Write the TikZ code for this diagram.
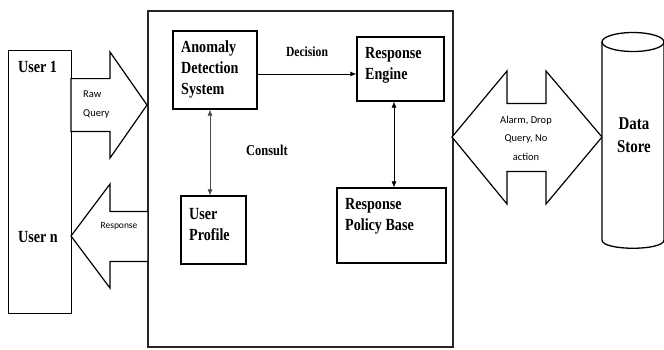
\documentclass[tikz,border=0pt]{standalone}
\usepackage{fontspec}
\setmainfont{Liberation Serif}
\newfontfamily\boxfont{Liberation Serif}[FakeStretch=0.83]
\newfontfamily\arrowfont{Carlito}
\usetikzlibrary{arrows.meta}

\newlength{\du}
\setlength{\du}{1pt}

\tikzset{
  block/.style={draw=black, line width=1.3\du, fill=white, inner sep=0pt},
  blocktext/.style={font=\boxfont\bfseries\fontsize{17}{21}\selectfont, align=left, inner sep=0pt, anchor=west},
  plaintext/.style={font=\boxfont\bfseries\fontsize{14}{17}\selectfont, inner sep=0pt},
  fatarrow/.style={draw=black, line width=1.2\du, fill=white, line join=miter},
  arrowtext/.style={font=\arrowfont\fontsize{10.5}{18.5}\selectfont, align=center, inner sep=0pt},
  tip/.style={-{Latex[length=6pt,width=5pt]}},
  link/.style={{Latex[length=6pt,width=5pt]}-{Latex[length=6pt,width=5pt]}, line width=0.6\du},
}

\begin{document}
\begin{tikzpicture}[x=1\du, y=-1\du]
\useasboundingbox (0,0) rectangle (664,349);

% users on the left
\node[block, line width=1\du, minimum width=63\du, minimum height=263\du] (users) at (39.5,181.5) {};
\node[blocktext] (user1) at (18,67) {User 1};
\node[blocktext] (usern) at (18,237) {User n};

% main system frame
\node[block, line width=1.5\du, draw=black!85, minimum width=305\du, minimum height=336\du] (core) at (300.5,179) {};

% query in, response out
\draw[fatarrow] (71,78.6) -- (110,78.6) -- (110,52) -- (147,105) -- (110,158) -- (110,131.4) -- (71,131.4) -- cycle;
\node[arrowtext, align=left, anchor=west, font=\arrowfont\fontsize{10.5}{19}\selectfont] (rawquery) at (83,104.5) {Raw\\Query};
\draw[fatarrow] (148,211.4) -- (110,211.4) -- (110,184) -- (71,236) -- (110,288) -- (110,261.4) -- (148,261.4) -- cycle;
\node[arrowtext, font=\arrowfont\fontsize{9.5}{12}\selectfont] (response) at (119,226) {Response};

% anomaly detection system
\node[block, minimum width=84\du, minimum height=78\du] (ads) at (215,70) {};
\node[blocktext] (adstext) at (181,69) {Anomaly\\Detection\\System};

% response engine
\node[block, minimum width=87\du, minimum height=64\du] (engine) at (400.5,69) {};
\node[blocktext] (enginetext) at (365,65) {Response\\Engine};

% user profile
\node[block, minimum width=65\du, minimum height=68\du] (profile) at (213.5,230) {};
\node[blocktext] (profiletext) at (189,224.5) {User\\Profile};

% response policy base
\node[block, minimum width=109\du, minimum height=75\du] (policy) at (391.5,225.5) {};
\node[blocktext] (policytext) at (345,216) {Response\\Policy Base};

% links inside the frame
\draw[tip, line width=0.8\du] ([yshift=-4pt]ads.east) -- ([yshift=-5pt]engine.west);
\node[plaintext] (decision) at (307,52) {Decision};
\draw[link, draw=black!70] ([xshift=-5pt]ads.south) -- ([xshift=-3.5pt]profile.north);
\node[plaintext, font=\boxfont\bfseries\fontsize{15}{18}\selectfont] (consult) at (267,150) {Consult};
\draw[link] ([xshift=-6.5pt]engine.south) -- ([xshift=2.5pt]policy.north);

% actions towards the data store
\draw[fatarrow] (452,137) -- (507,71) -- (507,103.4) -- (546,103.4) -- (546,71) -- (602,137)
  -- (546,204) -- (546,171.4) -- (507,171.4) -- (507,204) -- cycle;
\node[arrowtext] (actions) at (526,138) {Alarm, Drop\\Query, No\\action};

% data store cylinder
\draw[line width=1.3\du, fill=white] (602,42) -- (602,240) .. controls (602,251) and (664,251) .. (664,240) -- (664,42);
\draw[line width=1.3\du, fill=white] (633,42) ellipse [x radius=31\du, y radius=9.5\du];
\node[plaintext, font=\boxfont\bfseries\fontsize{18}{23}\selectfont, align=center] (store) at (634,135) {Data\\Store};
\end{tikzpicture}
\end{document}
